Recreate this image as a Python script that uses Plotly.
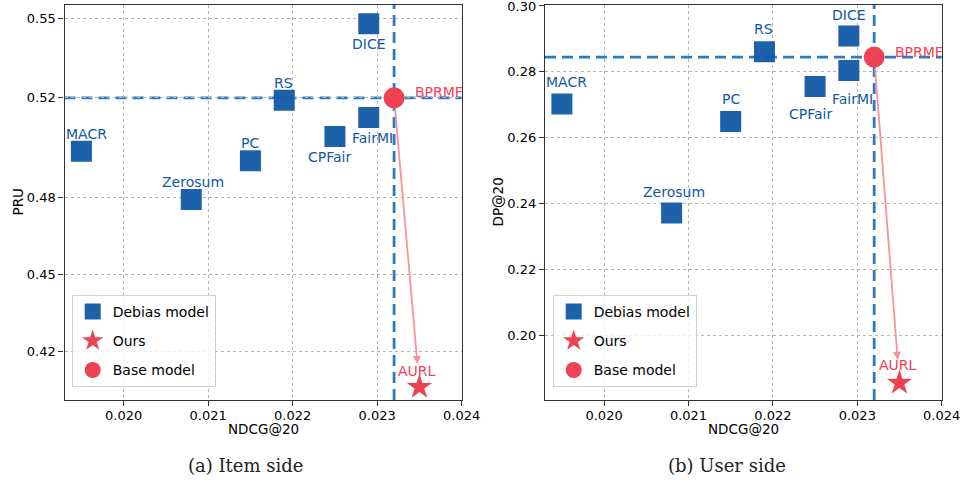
import plotly.graph_objects as go

# ---------------- data ----------------
models = ["MACR", "Zerosum", "PC", "RS", "CPFair", "FairMI", "DICE"]
ndcg_item = [0.01950, 0.02080, 0.02150, 0.02190, 0.02250, 0.02290, 0.02290]
pru = [0.4984, 0.4795, 0.4947, 0.5184, 0.5042, 0.5117, 0.5484]
ndcg_user = [0.01950, 0.02080, 0.02150, 0.02190, 0.02250, 0.02290, 0.02290]
dp = [0.2703, 0.2372, 0.2650, 0.2861, 0.2756, 0.2804, 0.2909]

base_name = "BPRMF"
base_ndcg_item, base_pru = 0.0232, 0.5194
base_ndcg_user, base_dp = 0.0232, 0.2845

ours_name = "AURL"
ours_ndcg_item, ours_pru = 0.0235, 0.4060
ours_ndcg_user, ours_dp = 0.0235, 0.1857

x_tickvals = [0.020, 0.021, 0.022, 0.023, 0.024]
pru_tickvals = [0.4200, 0.4500, 0.4802, 0.5194, 0.5506]
pru_ticktext = ["0.42", "0.45", "0.48", "0.52", "0.55"]
dp_tickvals = [0.20, 0.22, 0.24, 0.26, 0.28, 0.30]
dp_ticktext = ["0.20", "0.22", "0.24", "0.26", "0.28", "0.30"]

legend_names = ["Debias model", "Ours", "Base model"]
captions = ["(a) Item side", "(b) User side"]
x_title = "NDCG@20"
y_titles = ["PRU", "DP@20"]

# ---------------- style ----------------
BLUE = "#1158A6"
RED = "#EE4152"
DASH = "#2A7BC0"
ARROW = "#F4939D"
FONT = "DejaVu Sans"

# label pixel offsets (dx, dy) per model, per panel
off_item = {"MACR": (5, 17.5), "Zerosum": (2, 17.5), "PC": (0, 17.5), "RS": (-1, 17.5),
            "CPFair": (-5, -20.5), "FairMI": (4, -20.5), "DICE": (0, -20.5)}
off_user = {"MACR": (5, 22), "Zerosum": (2.6, 21.3), "PC": (0, 22), "RS": (-1, 22.7),
            "CPFair": (-5, -27.7), "FairMI": (3.4, -28.7), "DICE": (0, 20.7)}

fig = go.Figure()

panels = [
    dict(xa="x", ya="y", xs=ndcg_item, ys=pru, bx=base_ndcg_item, by=base_pru,
         ox=ours_ndcg_item, oy=ours_pru, off=off_item, legend="legend",
         ours_off=(-2.5, 16), base_off=(19, 5.5)),
    dict(xa="x2", ya="y2", xs=ndcg_user, ys=dp, bx=base_ndcg_user, by=base_dp,
         ox=ours_ndcg_user, oy=ours_dp, off=off_user, legend="legend2",
         ours_off=(-1.6, 17.7), base_off=(19.3, 5)),
]

annotations = []
shapes = []
for i, p in enumerate(panels):
    # dashed baseline reference lines
    shapes.append(dict(type="line", xref=f"{p['xa']} domain", yref=p["ya"],
                       x0=0, x1=1, y0=p["by"], y1=p["by"], layer="below",
                       line=dict(color=DASH, width=2.8, dash="11px,6px")))
    shapes.append(dict(type="line", xref=p["xa"], yref=f"{p['ya']} domain",
                       x0=p["bx"], x1=p["bx"], y0=0, y1=1, layer="below",
                       line=dict(color=DASH, width=2.8, dash="11px,6px")))

    fig.add_trace(go.Scatter(
        x=p["xs"], y=p["ys"], mode="markers", name=legend_names[0],
        xaxis=p["xa"], yaxis=p["ya"], legend=p["legend"], legendgroup=f"d{i}",
        marker=dict(symbol="square", size=21, color=BLUE, opacity=0.95,
                    line=dict(width=0)),
        hoverinfo="skip"))
    fig.add_trace(go.Scatter(
        x=[p["ox"]], y=[p["oy"]], mode="markers", name=legend_names[1],
        xaxis=p["xa"], yaxis=p["ya"], legend=p["legend"], legendgroup=f"o{i}",
        marker=dict(symbol="star", size=19, color=RED, line=dict(width=0)),
        hoverinfo="skip"))
    fig.add_trace(go.Scatter(
        x=[p["bx"]], y=[p["by"]], mode="markers", name=legend_names[2],
        xaxis=p["xa"], yaxis=p["ya"], legend=p["legend"], legendgroup=f"b{i}",
        marker=dict(symbol="circle", size=21, color=RED, line=dict(width=0)),
        hoverinfo="skip"))

    # model labels
    for m, xv, yv in zip(models, p["xs"], p["ys"]):
        dx, dy = p["off"][m]
        annotations.append(dict(x=xv, y=yv, xref=p["xa"], yref=p["ya"], text=m,
                                showarrow=False, xshift=dx, yshift=dy,
                                xanchor="center", yanchor="middle",
                                font=dict(family=FONT, size=14, color=BLUE)))
    annotations.append(dict(x=p["bx"], y=p["by"], xref=p["xa"], yref=p["ya"],
                            text=base_name, showarrow=False,
                            xshift=p["base_off"][0], yshift=p["base_off"][1],
                            xanchor="left", yanchor="middle",
                            font=dict(family=FONT, size=14, color=RED)))
    annotations.append(dict(x=p["ox"], y=p["oy"], xref=p["xa"], yref=p["ya"],
                            text=ours_name, showarrow=False,
                            xshift=p["ours_off"][0], yshift=p["ours_off"][1],
                            xanchor="center", yanchor="middle",
                            font=dict(family=FONT, size=14, color=RED)))
    # arrow from base to ours
    annotations.append(dict(x=p["ox"], y=p["oy"], ax=p["bx"], ay=p["by"],
                            xref=p["xa"], yref=p["ya"], axref=p["xa"], ayref=p["ya"],
                            text="", showarrow=True, arrowhead=2, arrowsize=0.9,
                            arrowwidth=1.8, arrowcolor=ARROW,
                            standoff=23, startstandoff=10))

# captions and axis titles
cap_x = [245.7 / 960, 726.7 / 960]
xt_x = [263 / 960, 743.3 / 960]
yt_x = [17 / 960, 497 / 960]
for i in range(2):
    annotations.append(dict(x=cap_x[i], y=1 - 465.7 / 482, xref="paper", yref="paper",
                            text=captions[i], showarrow=False,
                            xanchor="center", yanchor="middle",
                            font=dict(family="DejaVu Serif", size=18, color="#222")))
    annotations.append(dict(x=xt_x[i], y=1 - 428.5 / 482, xref="paper", yref="paper",
                            text=x_title, showarrow=False,
                            xanchor="center", yanchor="middle",
                            font=dict(family=FONT, size=13.5, color="black")))
    annotations.append(dict(x=yt_x[i], y=1 - 202.5 / 482, xref="paper", yref="paper",
                            text=y_titles[i], showarrow=False, textangle=-90,
                            xanchor="center", yanchor="middle",
                            font=dict(family=FONT, size=13.5, color="black")))

axis_common = dict(showline=True, mirror=True, linecolor="#333", linewidth=1.2,
                   ticks="outside", ticklen=5, tickwidth=1, tickcolor="#333",
                   showgrid=True, gridcolor="#b5b5b5", griddash="dot", gridwidth=0.8,
                   zeroline=False, ticklabeloverflow="allow", automargin=False,
                   tickfont=dict(family=FONT, size=13, color="black"))

ydom = [1 - 400 / 482, 1 - 5 / 482]
fig.update_layout(
    width=960, height=482, margin=dict(l=0, r=0, t=0, b=0, autoexpand=False),
    paper_bgcolor="white", plot_bgcolor="white",
    xaxis=dict(domain=[64.5 / 960, 461.7 / 960], range=[0.01930, 0.02400],
               tickvals=x_tickvals, tickformat=".3f", anchor="y",
               ticklabelstandoff=-2, **axis_common),
    yaxis=dict(domain=ydom, range=[0.4009, 0.5558], tickvals=pru_tickvals,
               ticktext=pru_ticktext, anchor="x", **axis_common),
    xaxis2=dict(domain=[545 / 960, 941.7 / 960], range=[0.01930, 0.02400],
                tickvals=x_tickvals, tickformat=".3f", anchor="y2",
                ticklabelstandoff=-2, **axis_common),
    yaxis2=dict(domain=ydom, range=[0.1805, 0.3003], tickvals=dp_tickvals,
                ticktext=dp_ticktext, anchor="x2", **axis_common),
    legend=dict(x=71.7 / 960, y=1 - 295 / 482, xanchor="left", yanchor="top",
                bgcolor="rgba(255,255,255,0.8)", bordercolor="#d0d0d0", borderwidth=1,
                font=dict(family=FONT, size=14, color="black"), tracegroupgap=8,
                itemsizing="trace"),
    legend2=dict(x=552.7 / 960, y=1 - 295 / 482, xanchor="left", yanchor="top",
                 bgcolor="rgba(255,255,255,0.8)", bordercolor="#d0d0d0", borderwidth=1,
                 font=dict(family=FONT, size=14, color="black"), tracegroupgap=8,
                 itemsizing="trace"),
    annotations=annotations, shapes=shapes,
    showlegend=True,
)

fig.write_html("out.html", config={"displayModeBar": False},
               post_script="document.body.style.margin='0';document.body.style.overflow='hidden';")
